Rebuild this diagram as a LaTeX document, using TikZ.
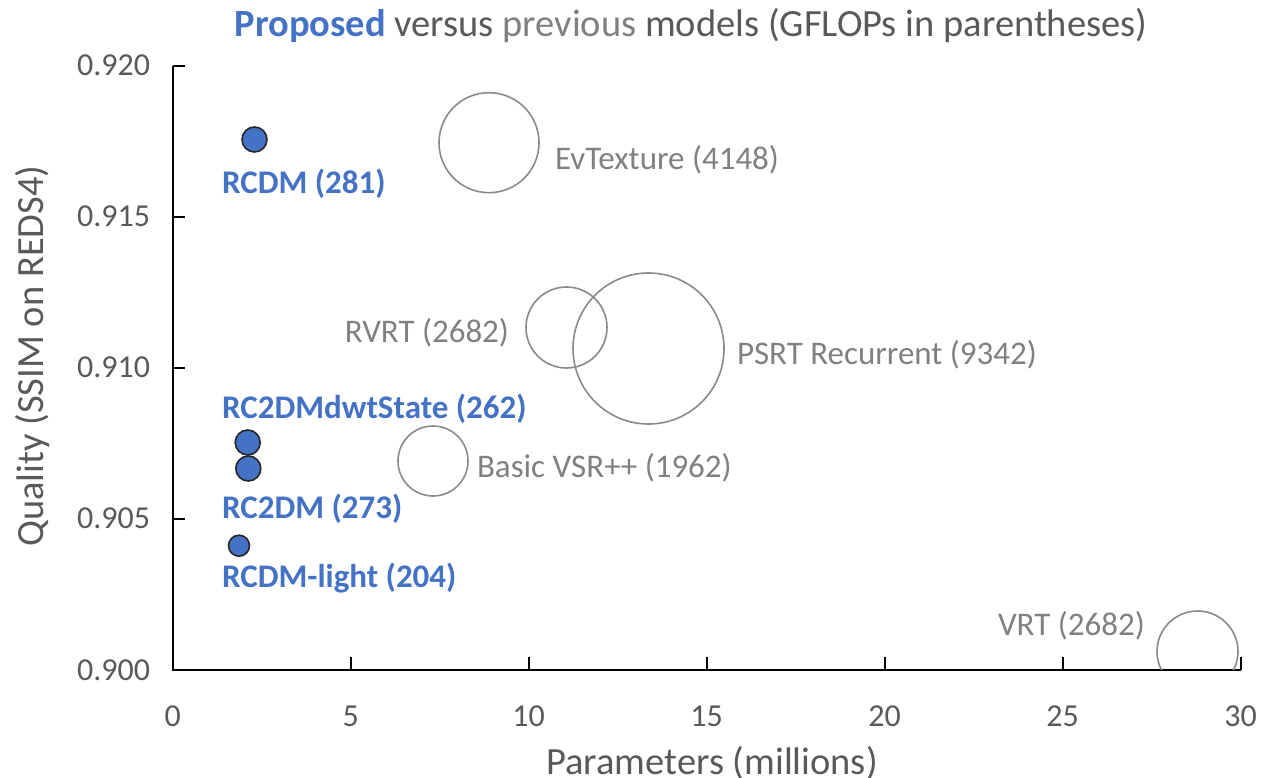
\documentclass[tikz,border=0pt]{standalone}
\usepackage{fontspec}
\setmainfont{Carlito}
\definecolor{propblue}{HTML}{4472C4}
\definecolor{darkgr}{HTML}{595959}
\definecolor{lightgr}{HTML}{808080}
\definecolor{ringgr}{HTML}{8A8A8A}
\begin{document}
\begin{tikzpicture}[x=1pt,y=-1pt,
  every node/.style={inner sep=0pt, outer sep=0pt},
  txt/.style={font=\fontsize{33}{38}\selectfont},
  proplabel/.style={txt, font=\fontsize{33}{38}\selectfont\bfseries, text=propblue},
  prevlabel/.style={txt, text=lightgr},
  ticklabel/.style={font=\fontsize{32}{38}\selectfont, text=darkgr},
  axtitle/.style={font=\fontsize{38.5}{44}\selectfont, text=darkgr},
  dot/.style={circle, draw=black!85, line width=1.6pt, fill=propblue},
  ring/.style={circle, draw=ringgr, line width=1.6pt},
  axisline/.style={line width=2pt, black}
]
\useasboundingbox (0,0) rectangle (1261,778);
% title
\node[anchor=base, font=\fontsize{38.5}{44}\selectfont] (title) at (691,37) {\textcolor{propblue}{\bfseries Proposed} \textcolor{darkgr}{versus} \textcolor{lightgr}{previous} \textcolor{darkgr}{models (GFLOPs in parentheses)}};
% axes
\coordinate (O) at (172.7,670);
\coordinate (Ytop) at (172.7,65.7);
\coordinate (Xend) at (1240.7,670);
\draw[axisline] (Ytop) -- (O) -- (Xend);
% y ticks
\foreach \v/\yy in {0.920/65.7,0.915/216.7,0.910/367.7,0.905/518.7,0.900/670} {
  \draw[axisline] (172.7,\yy) -- (185,\yy);
  \node[ticklabel, anchor=east] at (150,\yy) {\v};
}
% x ticks
\foreach \v in {0,5,...,30} {
  \pgfmathsetmacro{\xx}{172.7+35.6*\v}
  \draw[axisline] (\xx,670) -- (\xx,657);
  \node[ticklabel, anchor=base] at (\xx,726) {\v};
}
% axis titles
\node[axtitle, anchor=base] (xtitle) at (712,774) {Parameters (millions)};
\node[axtitle, anchor=base, rotate=90] (ytitle) at (43,356) {Quality (SSIM on REDS4)};
% previous models (rings)
\begin{scope}
\clip (172.7,0) rectangle (1245,669);
\node[ring, minimum size=100pt] (evt) at (489,142.7) {};
\node[ring, minimum size=81pt] (rvrt) at (566.5,327.5) {};
\node[ring, minimum size=151pt] (psrt) at (648.5,348.5) {};
\node[ring, minimum size=70pt] (bvsr) at (433,461) {};
\node[ring, minimum size=81pt] (vrt) at (1197.5,651.5) {};
\end{scope}
\node[prevlabel, anchor=base west] (evtl) at (555,170) {EvTexture (4148)};
\node[prevlabel, anchor=base east] (rvrtl) at (509,342) {RVRT (2682)};
\node[prevlabel, anchor=base west] (psrtl) at (737,364) {PSRT Recurrent (9342)};
\node[prevlabel, anchor=base west] (bvsrl) at (477,477) {Basic VSR++ (1962)};
\node[prevlabel, anchor=base west] (vrtl) at (998,635) {VRT (2682)};
% proposed models (dots)
\node[dot, minimum size=25pt] (rcdm) at (254.5,139.5) {};
\node[dot, minimum size=25pt] (dwt) at (247.7,442.5) {};
\node[dot, minimum size=25pt] (rc2dm) at (248.3,468.5) {};
\node[dot, minimum size=21pt] (light) at (239,545.7) {};
\node[proplabel, anchor=base west] (rcdml) at (222,194) {RCDM (281)};
\node[proplabel, anchor=base west] (dwtl) at (222,418) {RC2DMdwtState (262)};
\node[proplabel, anchor=base west] (rc2dml) at (222,518) {RC2DM (273)};
\node[proplabel, anchor=base west] (lightl) at (222,587) {RCDM-light (204)};
\end{tikzpicture}
\end{document}
